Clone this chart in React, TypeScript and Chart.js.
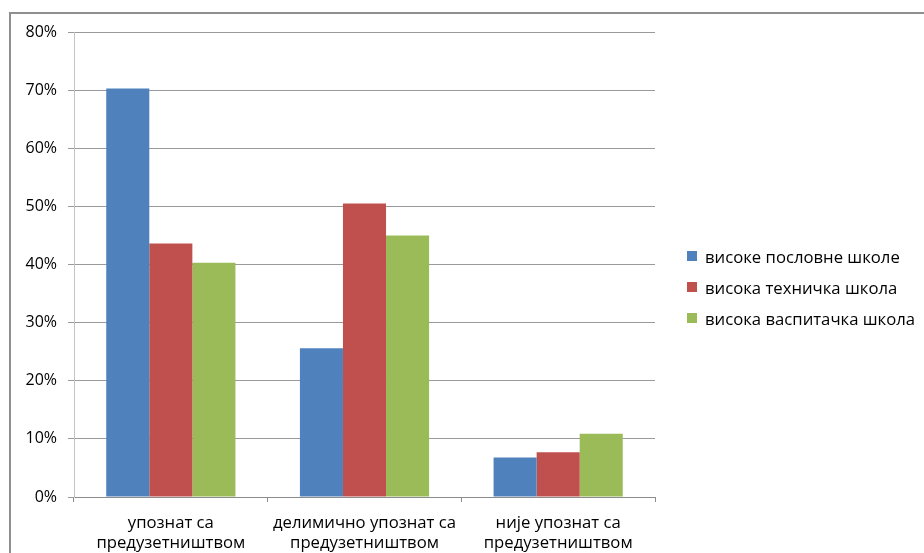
import React, { useEffect, useRef } from "react";
import { Chart, registerables } from "chart.js";

Chart.register(...registerables);

const categories: string[][] = [
  ["упознат са", "предузетништвом"],
  ["делимично упознат са", "предузетништвом"],
  ["није упознат са", "предузетништвом"],
];
const seriesNames = ["високе пословне школе", "висока техничка школа", "висока васпитачка школа"];
const seriesColors = ["#4F81BD", "#C0504D", "#9BBB59"];
const businessSchools = [0.703, 0.256, 0.068];
const technicalSchool = [0.436, 0.505, 0.077];
const teacherSchool = [0.403, 0.45, 0.109];
const yTicks = [0, 0.1, 0.2, 0.3, 0.4, 0.5, 0.6, 0.7, 0.8];

const FONT = "'Open Sans', sans-serif";

export default function App() {
  const ref = useRef<HTMLCanvasElement | null>(null);

  useEffect(() => {
    if (!ref.current) return;
    const values = [businessSchools, technicalSchool, teacherSchool];
    const chart = new Chart(ref.current, {
      type: "bar",
      data: {
        labels: categories,
        datasets: seriesNames.map((name, i) => ({
          label: name,
          data: values[i],
          backgroundColor: seriesColors[i],
          borderWidth: 0,
          barPercentage: 1,
          categoryPercentage: 0.667,
        })),
      },
      options: {
        animation: false,
        responsive: false,
        maintainAspectRatio: false,
        layout: { padding: { top: 32, left: 0, right: 269, bottom: 0 } },
        plugins: { legend: { display: false }, tooltip: { enabled: false } },
        scales: {
          x: {
            afterFit: (s: any) => {
              s.height = 56;
            },
            grid: {
              drawOnChartArea: false,
              drawTicks: true,
              tickLength: 5,
              color: "#8c8c8c",
              offset: true,
            },
            border: { color: "#8c8c8c", width: 1 },
            ticks: {
              color: "#000",
              padding: 11,
              maxRotation: 0,
              autoSkip: false,
              font: { family: FONT, size: 16.7, lineHeight: 1.2 },
            },
          },
          y: {
            min: 0,
            max: 0.8,
            afterFit: (s: any) => {
              s.width = 74;
            },
            afterBuildTicks: (s: any) => {
              s.ticks = yTicks.map((v) => ({ value: v }));
            },
            grid: { color: "#9a9a9a", tickLength: 6, drawTicks: true },
            border: { color: "#c4c4c4", width: 1 },
            ticks: {
              color: "#000",
              padding: 11,
              font: { family: FONT, size: 16 },
              callback: (v: any) => Math.round(Number(v) * 100) + "%",
            },
          },
        },
      },
    });
    return () => chart.destroy();
  }, []);

  const legendTops = [256, 287, 318];

  return (
    <div style={{ position: "fixed", left: 0, top: 0, width: 924, height: 553, overflow: "hidden", background: "#fff" }}>
      <div
        style={{
          position: "absolute",
          left: 9,
          top: 12,
          width: 1000,
          height: 700,
          borderTop: "2px solid #8f8f8f",
          borderLeft: "2px solid #8f8f8f",
        }}
      />
      <canvas ref={ref} width={924} height={553} style={{ position: "absolute", left: 0, top: 0, width: 924, height: 553 }} />
      {seriesNames.map((name, i) => (
        <div
          key={name}
          style={{
            position: "absolute",
            left: 687,
            top: legendTops[i] - 11,
            height: 22,
            display: "flex",
            alignItems: "center",
            fontFamily: FONT,
            fontSize: 16.7,
            color: "#000",
            whiteSpace: "nowrap",
          }}
        >
          <span style={{ display: "inline-block", width: 10, height: 10, background: seriesColors[i], marginRight: 8 }} />
          <span>{name}</span>
        </div>
      ))}
    </div>
  );
}
